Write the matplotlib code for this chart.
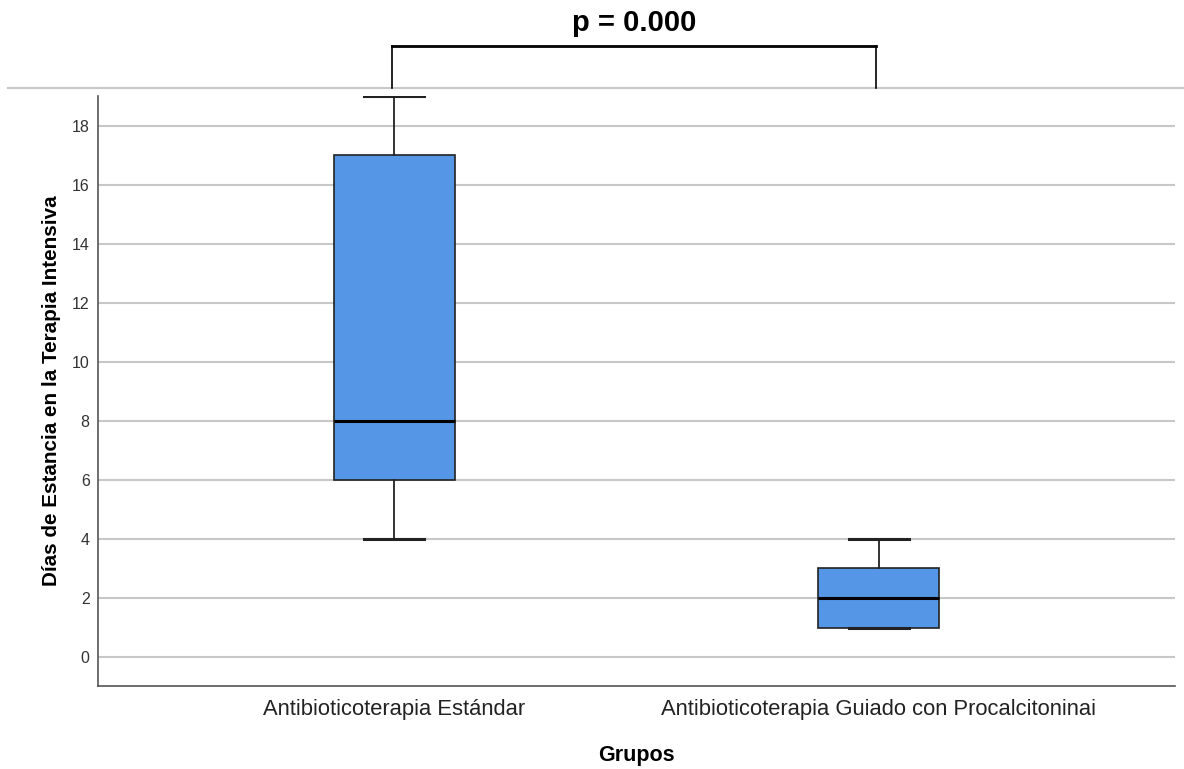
import matplotlib
matplotlib.use("Agg")
import matplotlib.pyplot as plt
from matplotlib.lines import Line2D

plt.rcParams['font.family'] = ['Liberation Sans', 'DejaVu Sans']

categories = ["Antibioticoterapia Estándar", "Antibioticoterapia Guiado con Procalcitoninai"]
whislo = [4, 1]
q1 = [6, 1]
med = [8, 2]
q3 = [17, 3]
whishi = [19, 4]
yticks = [0, 2, 4, 6, 8, 10, 12, 14, 16, 18]
p_text = "p = 0.000"

W, H = 1184, 769
fig = plt.figure(figsize=(W/100, H/100), dpi=100)
ax = fig.add_axes([98/W, 1-686/H, (1175-98)/W, (686-96)/H])

stats = [dict(label=c, whislo=a, q1=b, med=m, q3=d, whishi=e)
         for c, a, b, m, d, e in zip(categories, whislo, q1, med, q3, whishi)]
ax.bxp(stats, positions=[0, 1], widths=0.25, showfliers=False, patch_artist=True,
       boxprops=dict(facecolor='#5596E6', edgecolor='#222222', linewidth=1.2),
       medianprops=dict(color='black', linewidth=2.2),
       whiskerprops=dict(color='#222222', linewidth=1.3),
       capprops=dict(color='#222222', linewidth=2.2),
       capwidths=0.125, zorder=3)

ax.set_xlim(-0.611, 1.611)
ax.set_ylim(-0.98, 19.0)
ax.set_yticks(yticks)
ax.set_xticks([0, 1])
ax.set_xticklabels(categories, fontsize=15.8, color='#222222')
ax.tick_params(axis='y', labelsize=11.5, colors='#333333', length=0, pad=6)
ax.tick_params(axis='x', length=0, pad=9)
ax.yaxis.grid(True, color='#c8c8c8', linewidth=1.5, zorder=0)
ax.set_axisbelow(True)
for s in ['top', 'right']:
    ax.spines[s].set_visible(False)
for s in ['left', 'bottom']:
    ax.spines[s].set_color('#555555')
    ax.spines[s].set_linewidth(1.2)
ax.set_ylabel("Días de Estancia en la Terapia Intensiva", fontsize=14.9, fontweight='bold', labelpad=8)
ax.set_xlabel("Grupos", fontsize=15.5, fontweight='bold', labelpad=18)

# figure-level separator line
fig.add_artist(Line2D([8/W, 1.0], [1-88/H, 1-88/H], color='#c8c8c8', linewidth=1.5))
# bracket
xl, xr = 392/W, 876/W
yt, yb = 1-46/H, 1-88/H
fig.add_artist(Line2D([xl, xr], [yt, yt], color='black', linewidth=2))
fig.add_artist(Line2D([xl, xl], [yt, yb], color='black', linewidth=1.2))
fig.add_artist(Line2D([xr, xr], [yt, yb], color='black', linewidth=1.2))
fig.text(634/W, 1-23/H, p_text, ha='center', va='center', fontsize=21, fontweight='bold')

fig.savefig("out.png", dpi=100)
